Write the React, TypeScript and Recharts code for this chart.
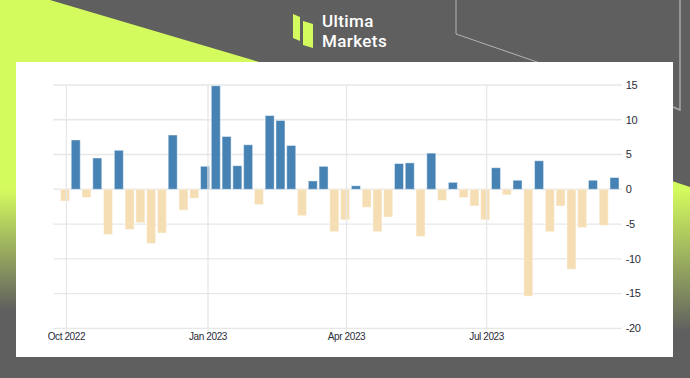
import { BarChart, Bar, Cell, XAxis, YAxis, CartesianGrid, ReferenceLine } from 'recharts';

// weekly change, week ending Friday
const weeks = [
  '2022-09-30', '2022-10-07', '2022-10-14', '2022-10-21', '2022-10-28',
  '2022-11-04', '2022-11-11', '2022-11-18', '2022-11-25', '2022-12-02',
  '2022-12-09', '2022-12-16', '2022-12-23', '2022-12-30', '2023-01-06',
  '2023-01-13', '2023-01-20', '2023-01-27', '2023-02-03', '2023-02-10',
  '2023-02-17', '2023-02-24', '2023-03-03', '2023-03-10', '2023-03-17',
  '2023-03-24', '2023-03-31', '2023-04-07', '2023-04-14', '2023-04-21',
  '2023-04-28', '2023-05-05', '2023-05-12', '2023-05-19', '2023-05-26',
  '2023-06-02', '2023-06-09', '2023-06-16', '2023-06-23', '2023-06-30',
  '2023-07-07', '2023-07-14', '2023-07-21', '2023-07-28', '2023-08-04',
  '2023-08-11', '2023-08-18', '2023-08-25', '2023-09-01', '2023-09-08',
  '2023-09-15', '2023-09-22',
];

const changes = [
  -1.7, 7.1, -1.2, 4.5, -6.5,
  5.6, -5.8, -4.8, -7.8, -6.3,
  7.8, -3.0, -1.3, 3.3, 14.9,
  7.6, 3.4, 6.4, -2.2, 10.6,
  9.9, 6.3, -3.8, 1.2, 3.3,
  -6.1, -4.4, 0.5, -2.6, -6.1,
  -4.0, 3.7, 3.8, -6.8, 5.2,
  -1.6, 1.0, -1.2, -2.4, -4.4,
  3.1, -0.8, 1.3, -15.4, 4.1,
  -6.1, -2.4, -11.5, -5.5, 1.3,
  -5.2, 1.7,
];

const xTickDates = ['2022-10-01', '2023-01-01', '2023-04-01', '2023-07-01'];
const xDomainDates = ['2022-09-22T12:00:00Z', '2023-09-26T18:00:00Z'];
const yTicks = [-20, -15, -10, -5, 0, 5, 10, 15];
const monthNames = ['Jan', 'Feb', 'Mar', 'Apr', 'May', 'Jun', 'Jul', 'Aug', 'Sep', 'Oct', 'Nov', 'Dec'];

const POS = '#4682b4';
const NEG = '#f5deb3';
const LIME = '#d4fb5e';
const BG = '#5f5f5f';
const GRID = '#e7e7e7';
const FONT = '"Liberation Sans", Arial, sans-serif';

const ts = (s: string) => Date.parse(s.length === 10 ? s + 'T00:00:00Z' : s);

const data = weeks.map((w, i) => ({ t: ts(w), v: changes[i] }));

function fmtMonth(v: number) {
  const d = new Date(v);
  return `${monthNames[d.getUTCMonth()]} ${d.getUTCFullYear()}`;
}

function Backdrop() {
  return (
    <svg width={690} height={378} style={{ position: 'absolute', left: 0, top: 0 }}>
      <defs>
        <linearGradient id="leftFade" x1="0" y1="0" x2="0" y2="1">
          <stop offset="0.5" stopColor={LIME} />
          <stop offset="0.82" stopColor={BG} />
        </linearGradient>
        <linearGradient id="rightFade" x1="0" y1="0" x2="0" y2="1">
          <stop offset="0.05" stopColor={LIME} />
          <stop offset="0.95" stopColor={BG} />
        </linearGradient>
      </defs>
      <rect x={0} y={0} width={690} height={378} fill={BG} />
      <polygon points="0,0 50,0 300,74 0,74" fill={LIME} />
      <rect x={0} y={0} width={17} height={378} fill="url(#leftFade)" />
      <polygon points="672,181 690,187 690,340 672,340" fill="url(#rightFade)" />
      <polyline points="456,0 456,34 540,63" fill="none" stroke="#b5b5b5" strokeWidth={1} />
      <polyline points="673,107 680,110 680,0" fill="none" stroke="#a8a8a8" strokeWidth={1.5} />
      {/* logo mark */}
      <polygon points="293,14 300,17 300,41 293,38" fill={LIME} />
      <polygon points="303,21 313,24 313,48 303,45" fill={LIME} />
    </svg>
  );
}

const logoLine = {
  position: 'absolute' as const,
  left: 322,
  height: 20,
  lineHeight: '20px',
  color: '#ffffff',
  fontFamily: 'Roboto, Inter, sans-serif',
  fontWeight: 500,
  fontSize: 17,
  letterSpacing: 0.4,
};

export default function App() {
  return (
    <div style={{ position: 'absolute', left: 0, top: 0, width: 690, height: 378, overflow: 'hidden' }}>
      <Backdrop />
      <div style={{ ...logoLine, top: 11 }}>Ultima</div>
      <div style={{ ...logoLine, top: 31 }}>Markets</div>
      <div
        style={{ position: 'absolute', left: 16, top: 62, width: 657, height: 295, background: '#ffffff' }}
      />
      <div style={{ position: 'absolute', left: 0, top: 0 }}>
        <BarChart
          width={690}
          height={378}
          data={data}
          margin={{ top: 85, right: 28.3, bottom: 19.7, left: 53.3 }}
        >
          <CartesianGrid stroke={GRID} strokeWidth={1.3} vertical={false} />
          {xTickDates.map((d) => (
            <ReferenceLine key={d} x={ts(d)} stroke={GRID} strokeWidth={1.3} />
          ))}
          <XAxis
            dataKey="t"
            type="number"
            scale="linear"
            domain={xDomainDates.map(ts)}
            ticks={xTickDates.map(ts)}
            tickFormatter={fmtMonth}
            allowDataOverflow
            height={30}
            axisLine={false}
            tickLine={{ stroke: GRID }}
            tickSize={4}
            tickMargin={1}
            tick={{ fill: '#2b2b3a', fontSize: 10, fontFamily: FONT, letterSpacing: -0.4 }}
          />
          <YAxis
            orientation="right"
            type="number"
            domain={[-20, 15]}
            ticks={yTicks}
            width={40}
            axisLine={false}
            tickLine={false}
            tickSize={0}
            tickMargin={4}
            tick={{ fill: '#2b2b3a', fontSize: 11, fontFamily: FONT, textAnchor: 'start', letterSpacing: -0.3 }}
          />
          <Bar dataKey="v" barSize={9} isAnimationActive={false} stroke="#ffffff" strokeOpacity={0.45}>
            {data.map((d, i) => (
              <Cell key={i} fill={d.v >= 0 ? POS : NEG} />
            ))}
          </Bar>
        </BarChart>
      </div>
    </div>
  );
}
